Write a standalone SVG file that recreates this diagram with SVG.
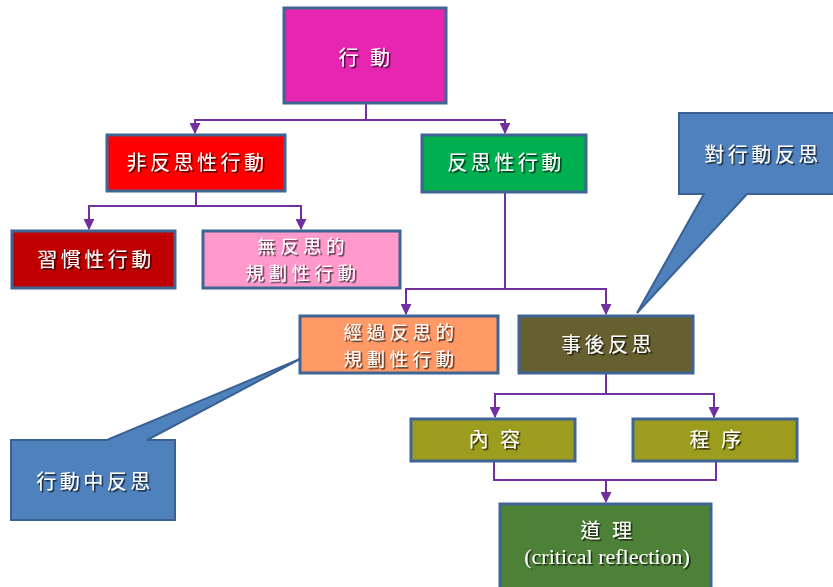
<svg xmlns="http://www.w3.org/2000/svg" width="833" height="587" viewBox="0 0 833 587">
<defs>
<marker id="arr" viewBox="0 0 10 10" refX="9" refY="5" markerWidth="5.5" markerHeight="5.5" markerUnits="strokeWidth" orient="auto">
<path d="M0,0 L10,5 L0,10 z" fill="#7030A0"/>
</marker>
<filter id="sh" x="-10%" y="-30%" width="130%" height="170%">
<feDropShadow dx="1.5" dy="1.5" stdDeviation="0.7" flood-color="#000" flood-opacity="0.75"/>
</filter>
</defs>
<style>
.box{stroke:#3E6593;stroke-width:3}
.co{fill:#4F81BD;stroke:#3A6192;stroke-width:2;stroke-linejoin:miter}
.t{font-family:"Noto Sans CJK TC","Noto Sans CJK SC",sans-serif;font-size:20px;fill:#fff;text-anchor:middle;letter-spacing:3.5px;filter:url(#sh)}
.s{font-size:18.5px;letter-spacing:4.5px}
.e{font-family:"Liberation Serif",serif;font-size:22px;fill:#fff;text-anchor:middle;filter:url(#sh)}
.c{fill:none;stroke:#7030A0;stroke-width:2}
</style>
<rect width="833" height="587" fill="#fff"/>
<g id="connectors">
<path class="c" d="M366,103 V120 H195 V133" marker-end="url(#arr)"/>
<path class="c" d="M366,120 H505 V133" marker-end="url(#arr)"/>
<path class="c" d="M196,191 V206 H89 V229" marker-end="url(#arr)"/>
<path class="c" d="M196,206 H301 V229" marker-end="url(#arr)"/>
<path class="c" d="M505,192 V289 H406 V314" marker-end="url(#arr)"/>
<path class="c" d="M505,289 H606 V314" marker-end="url(#arr)"/>
<path class="c" d="M606,373 V394 H495 V417" marker-end="url(#arr)"/>
<path class="c" d="M606,394 H714 V417" marker-end="url(#arr)"/>
<path class="c" d="M494,461 V480 H716 V461"/>
<path class="c" d="M606,480 V502" marker-end="url(#arr)"/>
</g>
<g id="n-action"><rect class="box" x="284" y="8" width="162" height="95" fill="#E626B1"/><text class="t" x="366" y="65">行 動</text></g>
<g id="n-nonreflective"><rect class="box" x="107" y="135" width="178" height="56" fill="#FF0000"/><text class="t" x="197" y="170">非反思性行動</text></g>
<g id="n-reflective"><rect class="box" x="422" y="135" width="164" height="57" fill="#00B050"/><text class="t" x="506" y="170">反思性行動</text></g>
<g id="n-habit"><rect class="box" x="12" y="231" width="163" height="57" fill="#C00000"/><text class="t" x="96" y="267">習慣性行動</text></g>
<g id="n-unreflective-plan"><rect class="box" x="203" y="231" width="197" height="57" fill="#FF99CC"/><text class="t s" x="303" y="253">無反思的</text><text class="t s" x="303" y="280">規劃性行動</text></g>
<g id="n-reflective-plan"><rect class="box" x="300" y="316" width="198" height="57" fill="#FF9966"/><text class="t s" x="401" y="339">經過反思的</text><text class="t s" x="401" y="366">規劃性行動</text></g>
<g id="n-after"><rect class="box" x="519" y="316" width="174" height="57" fill="#665F2F"/><text class="t" x="608" y="352">事後反思</text></g>
<g id="n-content"><rect class="box" x="411" y="419" width="164" height="42" fill="#9C9C1E"/><text class="t" x="496" y="447">內 容</text></g>
<g id="n-process"><rect class="box" x="633" y="419" width="164" height="42" fill="#9C9C1E"/><text class="t" x="717" y="447">程 序</text></g>
<g id="n-reason"><rect class="box" x="500" y="504" width="211" height="90" fill="#4E8138"/><text class="t" x="608" y="538">道 理</text><text class="e" x="607" y="564">(critical reflection)</text></g>
<g id="callout-on-action"><path class="co" d="M679,113 H840 V194 H747 L637,313 L704,194 H679 Z"/><text class="t" x="763" y="162">對行動反思</text></g>
<g id="callout-in-action"><path class="co" d="M11,440 H107 L300,359 L147,440 H175 V520 H11 Z"/><text class="t" x="95" y="489">行動中反思</text></g>
</svg>
